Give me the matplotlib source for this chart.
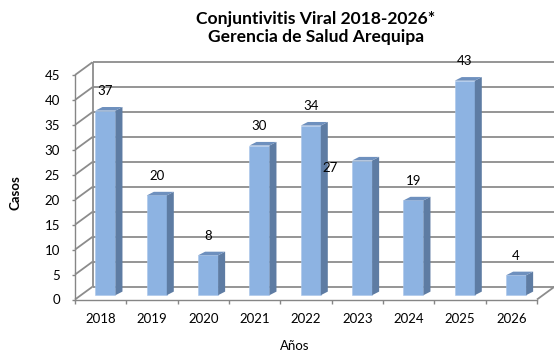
import matplotlib
matplotlib.use("Agg")
import matplotlib.pyplot as plt
from matplotlib.patches import Polygon
import numpy as np

# --- data ---------------------------------------------------------------
years = ["2018", "2019", "2020", "2021", "2022", "2023", "2024", "2025", "2026"]
cases = [37, 20, 8, 30, 34, 27, 19, 43, 4]
y_ticks = [0, 5, 10, 15, 20, 25, 30, 35, 40, 45]

title = "Conjuntivitis Viral 2018-2026*\nGerencia de Salud Arequipa"
y_label = "Casos"
x_label = "Años"

# --- style ----------------------------------------------------------------
plt.rcParams["font.family"] = ["Lato", "DejaVu Sans"]
FRONT = "#8DB3E2"
SIDE = "#5E7CA3"
TOP = "#6E90BE"
GRID = "#8C8C8C"
AXIS = "#868686"
FS = 9.5

W, H = 554, 354
fig = plt.figure(figsize=(W / 100, H / 100), dpi=100)
fig.patch.set_facecolor("white")

# front plane of the 3-D box (pixel geometry)
left_px, right_px, top_px, bottom_px = 75, 537, 75, 299.5
ax = fig.add_axes([left_px / W, (H - bottom_px) / H,
                   (right_px - left_px) / W, (bottom_px - top_px) / H])
n = len(years)
ymax = y_ticks[-1]
ax.set_xlim(0, n)
ax.set_ylim(0, ymax)
ax.set_facecolor("none")

px_x = (right_px - left_px) / n        # pixels per category
px_y = (bottom_px - top_px) / ymax     # pixels per case

# depth of the box and of the columns, in data units
DX, DY = 17.5 / px_x, 12.8 / px_y
BAR_W = 20 / px_x
BAR_SHIFT = 4.8 / px_x
BAR_BASE = 4.3 / px_y
SDX, SDY = 7 / px_x, 3.6 / px_y

# back wall, side wall and floor
line_kw = dict(color=GRID, lw=1.3, clip_on=False, zorder=1, solid_capstyle="butt")
for t in y_ticks:
    ax.plot([DX, n + DX], [t + DY, t + DY], **line_kw)
    ax.plot([0, DX], [t, t + DY], **line_kw)
ax.plot([DX, DX], [DY, ymax + DY], **line_kw)
ax.plot([n + DX, n + DX], [DY, ymax + DY], **line_kw)
ax.plot([n, n + DX], [0, DY], **line_kw)

# columns: front face via bar, side and top faces as parallelograms
xc = np.arange(n) + 0.5 + BAR_SHIFT
ax.bar(xc, cases, width=BAR_W, bottom=BAR_BASE, color=FRONT,
       edgecolor="#A9C6EA", linewidth=0.4, zorder=3, clip_on=False)
for x, v in zip(xc, cases):
    r = x + BAR_W / 2
    l = x - BAR_W / 2
    b = BAR_BASE
    t = BAR_BASE + v
    ax.add_patch(Polygon([(r, b), (r + SDX, b + SDY), (r + SDX, t + SDY), (r, t)],
                         closed=True, facecolor=SIDE, edgecolor="none",
                         zorder=3, clip_on=False))
    ax.add_patch(Polygon([(l, t), (r, t), (r + SDX, t + SDY), (l + SDX, t + SDY)],
                         closed=True, facecolor=TOP, edgecolor="none",
                         zorder=3, clip_on=False))

# value labels above each column (the 2023 label sits beside its column)
label_offsets = {5: (-23, -5.4)}
for i, (x, v) in enumerate(zip(xc, cases)):
    off = label_offsets.get(i, (0, 13.9))
    ax.annotate(str(v), (x, BAR_BASE + v), xytext=off, textcoords="offset points",
                ha="center", va="center", fontsize=FS, color="black", zorder=6,
                annotation_clip=False)

# axes: front vertical axis and front floor edge
for s in ("top", "right"):
    ax.spines[s].set_visible(False)
for s in ("left", "bottom"):
    ax.spines[s].set_color(AXIS)
    ax.spines[s].set_linewidth(1.0)
    ax.spines[s].set_zorder(2)

ax.set_yticks(y_ticks)
ax.set_yticklabels([str(t) for t in y_ticks])
ax.tick_params(axis="y", direction="out", length=2.5, width=1, color=AXIS,
               labelsize=FS, pad=8.3)
ax.set_xticks(np.arange(n + 1))
ax.set_xticklabels([])
ax.set_xticks(np.arange(n) + 0.5, minor=True)
ax.set_xticklabels(years, minor=True)
ax.tick_params(axis="x", which="major", direction="out", length=3, width=1, color=AXIS)
ax.tick_params(axis="x", which="minor", length=0, labelsize=FS, pad=10)

# titles
fig.text(316 / W, 1 - 28 / H, title, ha="center", va="center", fontsize=12.6,
         fontweight="bold", linespacing=1.1)
fig.text(16 / W, 1 - 193 / H, y_label, rotation=90, ha="center", va="center",
         fontsize=FS, fontweight="bold")
fig.text(295 / W, 1 - 346 / H, x_label, ha="center", va="center", fontsize=FS)

fig.savefig("out.png", dpi=100, facecolor="white")
